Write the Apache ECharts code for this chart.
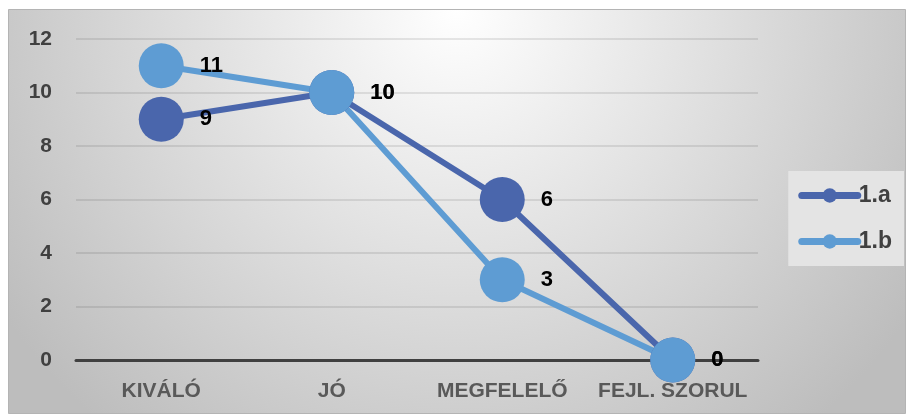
<!DOCTYPE html>
<html>
<head>
<meta charset="utf-8">
<script src="https://cdn.jsdelivr.net/npm/echarts@6/dist/echarts.min.js"></script>
<style>
  html, body { margin: 0; padding: 0; background: #fff; }
  #main { width: 908px; height: 414px; }
</style>
</head>
<body>
<div id="main"></div>
<script>
// kategóriák és értékek
var categories = ['KIVÁLÓ', 'JÓ', 'MEGFELELŐ', 'FEJL. SZORUL'];
var seriesA = [9, 10, 6, 0];
var seriesB = [11, 10, 3, 0];
var yTicks = [0, 2, 4, 6, 8, 10, 12];

var chart = echarts.init(document.getElementById('main'));
var font = 'Liberation Sans';

var labelStyle = {
  show: true, position: 'right', distance: 16,
  fontFamily: font, fontWeight: 'bold', fontSize: 22, color: '#000'
};

chart.setOption({
  animation: false,
  graphic: [{
    type: 'rect',
    z: -10,
    shape: { x: 8.5, y: 9.5, width: 897, height: 404 },
    style: {
      stroke: '#b4b4b4',
      lineWidth: 1,
      fill: {
        type: 'radial', x: 0.5, y: 0.0, r: 1.35,
        colorStops: [
          { offset: 0, color: '#ffffff' },
          { offset: 0.12, color: '#f7f7f7' },
          { offset: 1, color: '#bdbdbd' }
        ]
      }
    }
  }],
  grid: { left: 76, right: 150, top: 39, bottom: 54 },
  legend: {
    orient: 'vertical',
    right: 4,
    top: 171,
    padding: [13, 12, 13, 10],
    itemGap: 23,
    itemWidth: 56,
    itemHeight: 18,
    backgroundColor: '#e4e4e4',
    lineStyle: { width: 7, cap: 'round' },
    textStyle: { fontFamily: font, fontWeight: 'bold', fontSize: 23, color: '#404040', padding: [0, 0, 0, -4] },
    data: ['1.a', '1.b']
  },
  xAxis: {
    type: 'category',
    data: categories,
    axisTick: { show: false },
    axisLine: { lineStyle: { color: '#404040', width: 3 } },
    axisLabel: { interval: 0, margin: 21, fontFamily: font, fontWeight: 'bold', fontSize: 21, color: '#595959' }
  },
  yAxis: {
    type: 'value',
    min: yTicks[0],
    max: yTicks[yTicks.length - 1],
    interval: 2,
    axisLine: { show: false },
    axisTick: { show: false },
    splitLine: { lineStyle: { color: 'rgba(0,0,0,0.12)', width: 1.5 } },
    axisLabel: { margin: 24, fontFamily: font, fontWeight: 'bold', fontSize: 21, color: '#404040' }
  },
  series: [{
    name: '1.a',
    type: 'line',
    data: seriesA,
    symbol: 'circle',
    symbolSize: 45,
    color: '#4a66ac',
    itemStyle: { borderWidth: 0 },
    lineStyle: { width: 6 },
    label: labelStyle
  }, {
    name: '1.b',
    type: 'line',
    data: seriesB,
    symbol: 'circle',
    symbolSize: 45,
    color: '#5e9cd3',
    itemStyle: { borderWidth: 0 },
    lineStyle: { width: 6 },
    label: labelStyle
  }]
});
</script>
</body>
</html>
